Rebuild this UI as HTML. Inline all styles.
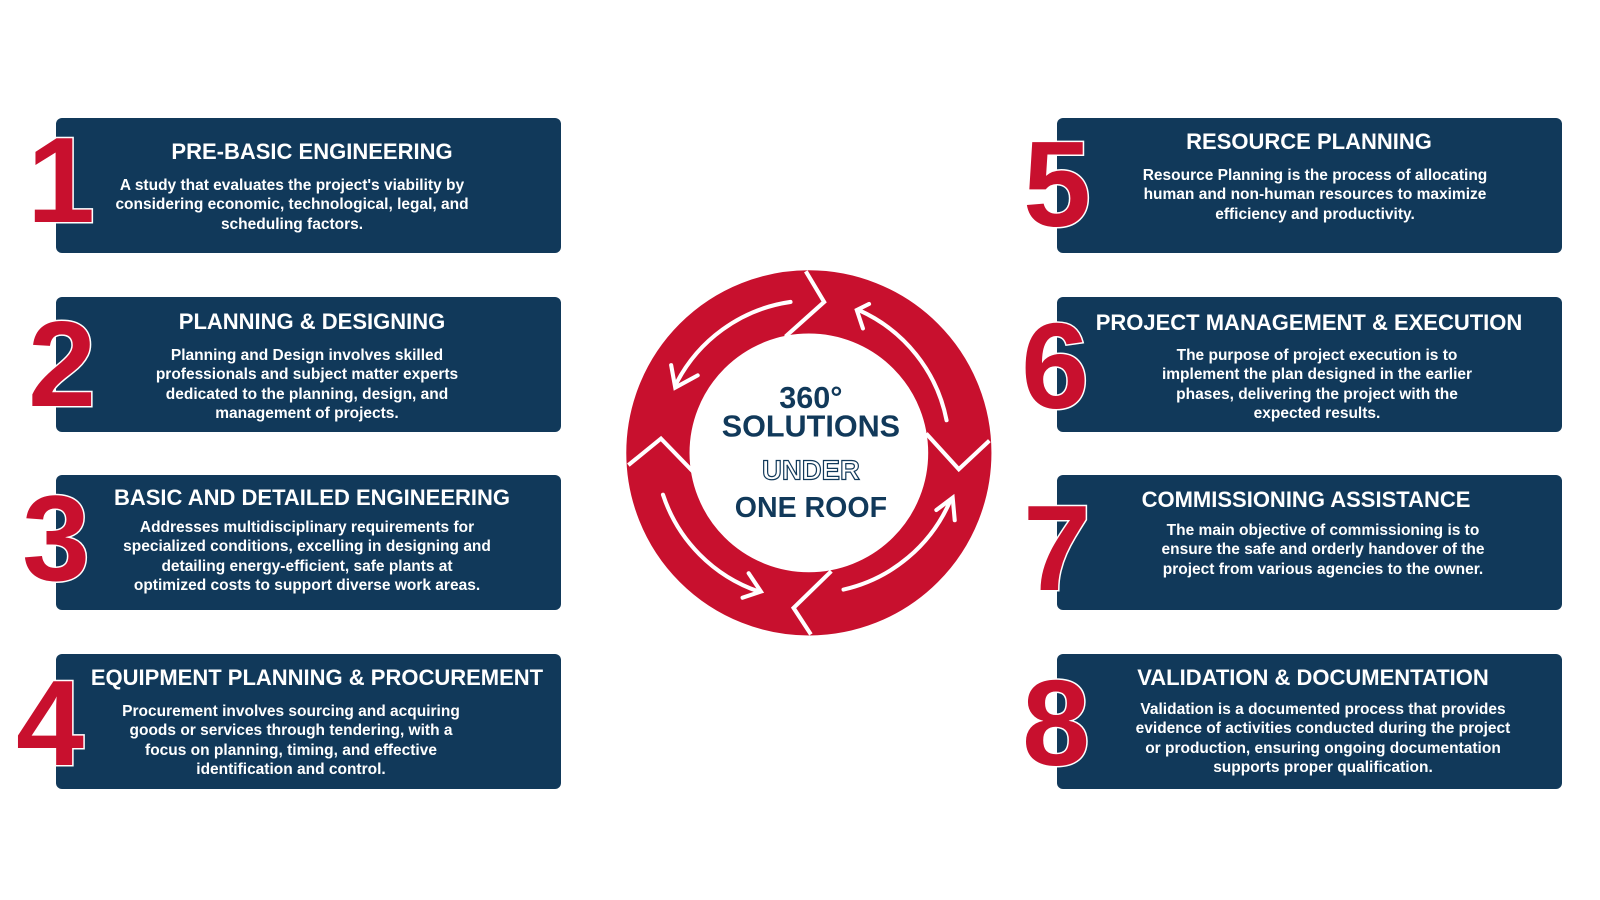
<!DOCTYPE html>
<html><head><meta charset="utf-8"><style>
body{margin:0;width:1600px;height:900px;background:#fff;position:relative;overflow:hidden;font-family:"Liberation Sans",sans-serif}
.box{position:absolute;width:505px;height:135px;background:#11395a;border-radius:6px;color:#fff;text-align:center}
.t{position:absolute;width:600px;font-size:22px;font-weight:bold;line-height:24px;white-space:nowrap;text-align:center}
.b{position:absolute;width:600px;font-size:15.5px;font-weight:bold;line-height:19.4px;white-space:nowrap;text-align:center}
</style></head><body>
<div class="box" style="left:56px;top:118px"><div class="t" style="left:-44px;top:22px">PRE-BASIC ENGINEERING</div><div class="b" style="left:-64px;top:58px">A study that evaluates the project's viability by<br>considering economic, technological, legal, and<br>scheduling factors.</div></div>
<div class="box" style="left:56px;top:297px"><div class="t" style="left:-44px;top:13px">PLANNING &amp; DESIGNING</div><div class="b" style="left:-49px;top:49px">Planning and Design involves skilled<br>professionals and subject matter experts<br>dedicated to the planning, design, and<br>management of projects.</div></div>
<div class="box" style="left:56px;top:475px"><div class="t" style="left:-44px;top:11px">BASIC AND DETAILED ENGINEERING</div><div class="b" style="left:-49px;top:43px">Addresses multidisciplinary requirements for<br>specialized conditions, excelling in designing and<br>detailing energy-efficient, safe plants at<br>optimized costs to support diverse work areas.</div></div>
<div class="box" style="left:56px;top:654px"><div class="t" style="left:-39px;top:12px">EQUIPMENT PLANNING &amp; PROCUREMENT</div><div class="b" style="left:-65px;top:48px">Procurement involves sourcing and acquiring<br>goods or services through tendering, with a<br>focus on planning, timing, and effective<br>identification and control.</div></div>
<div class="box" style="left:1057px;top:118px"><div class="t" style="left:-48px;top:12px">RESOURCE PLANNING</div><div class="b" style="left:-42px;top:48px">Resource Planning is the process of allocating<br>human and non-human resources to maximize<br>efficiency and productivity.</div></div>
<div class="box" style="left:1057px;top:297px"><div class="t" style="left:-48px;top:14px">PROJECT MANAGEMENT &amp; EXECUTION</div><div class="b" style="left:-40px;top:49px">The purpose of project execution is to<br>implement the plan designed in the earlier<br>phases, delivering the project with the<br>expected results.</div></div>
<div class="box" style="left:1057px;top:475px"><div class="t" style="left:-51px;top:13px">COMMISSIONING ASSISTANCE</div><div class="b" style="left:-34px;top:46px">The main objective of commissioning is to<br>ensure the safe and orderly handover of the<br>project from various agencies to the owner.</div></div>
<div class="box" style="left:1057px;top:654px"><div class="t" style="left:-44px;top:12px">VALIDATION &amp; DOCUMENTATION</div><div class="b" style="left:-34px;top:46px">Validation is a documented process that provides<br>evidence of activities conducted during the project<br>or production, ensuring ongoing documentation<br>supports proper qualification.</div></div>
<svg style="position:absolute;left:0;top:0" width="1600" height="900">
<g font-family="Liberation Sans,sans-serif" font-weight="900" font-size="122" fill="#c8102e" stroke="#fff" stroke-width="3" paint-order="stroke" text-anchor="middle">
<text x="61" y="222">1</text>
<text x="62" y="406">2</text>
<text x="56" y="580">3</text>
<text x="50" y="765">4</text>
<text x="1057" y="226">5</text>
<text x="1055" y="408">6</text>
<text x="1057" y="590">7</text>
<text x="1056" y="765">8</text>
</g>
<g transform="scale(1.02)">
<circle cx="793" cy="444" r="148" fill="none" stroke="#c8102e" stroke-width="62"/>
<g stroke="#fff" stroke-width="4" fill="none">
<polyline points="790,266 808,296 770,330"/>
<polyline points="970,432 940,460 908,425"/>
<polyline points="795,622 778,596 815,560"/>
<polyline points="616,456 648,430 680,463"/>
</g>
<g stroke="#fff" stroke-width="4" fill="none" stroke-linecap="round">
<path d="M775,296 A150,150 0 0 0 662,378"/><polyline points="658,358 662,380 684,368"/>
<path d="M928,412 A150,150 0 0 0 842,304"/><polyline points="852,298 840,304 846,322"/>
<path d="M650,485 A150,150 0 0 0 744,580"/><polyline points="734,562 746,580 728,586"/>
<path d="M827,578 A150,150 0 0 0 932,490"/><polyline points="918,500 934,488 936,510"/>
</g>
<g font-family="Liberation Sans,sans-serif" font-weight="900" text-anchor="middle" fill="#11395a">
<text x="795" y="400" font-size="30">360°</text>
<text x="795" y="428" font-size="30">SOLUTIONS</text>
<text x="795" y="470" font-size="27" fill="#fff" stroke="#11395a" stroke-width="1.2">UNDER</text>
<text x="795" y="507" font-size="28">ONE ROOF</text>
</g>
</g>
</svg>
</body></html>
